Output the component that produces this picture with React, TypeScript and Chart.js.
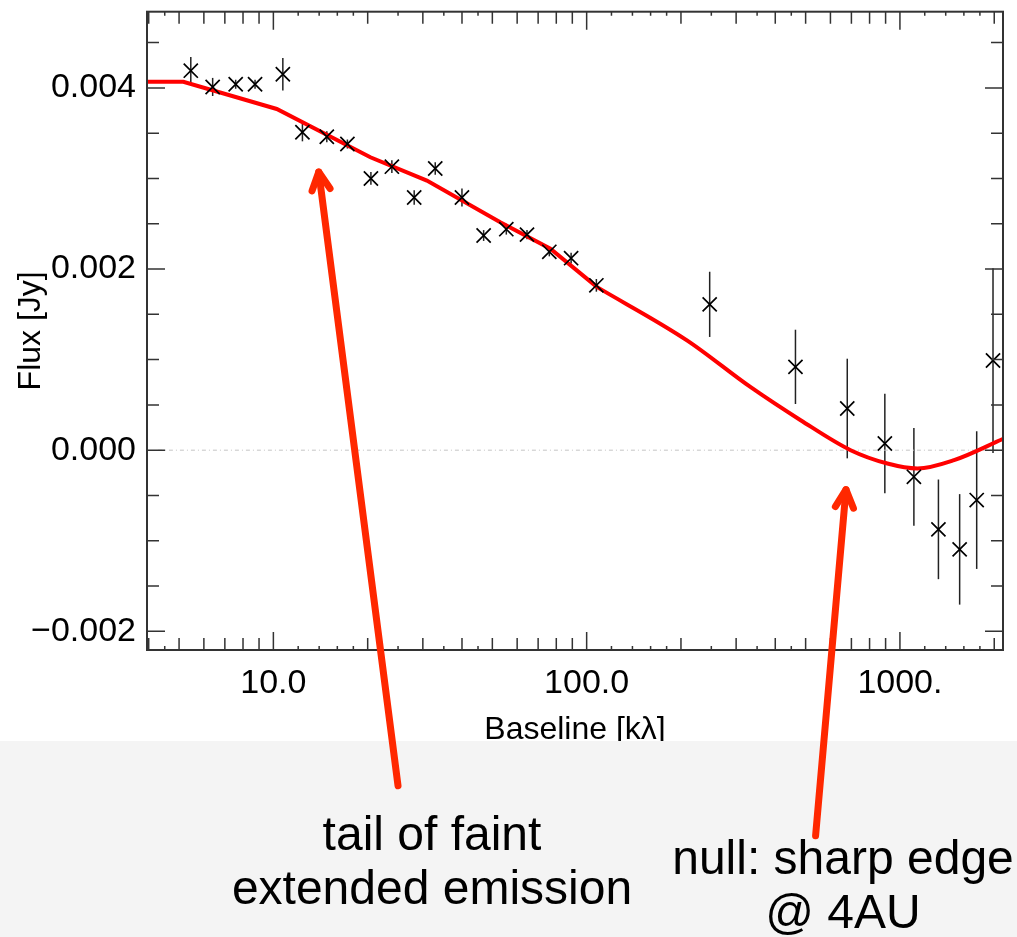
import { useEffect, useRef } from 'react';
import { Chart, registerables } from 'chart.js';

Chart.register(...registerables);

// Measured visibilities: baseline (kλ), flux (Jy) and 1σ errors
const baseline = [5.45, 6.4, 7.58, 8.74, 10.72, 12.38, 14.81, 17.23, 20.48, 23.89, 28.15, 32.86, 39.99, 46.9, 55.4, 64.5, 76.0, 89.2, 107.4, 247, 464, 679, 895, 1108, 1327, 1551, 1758, 1982];
const flux = [0.00419, 0.00401, 0.00404, 0.00404, 0.00415, 0.00351, 0.00346, 0.00338, 0.003, 0.00313, 0.00279, 0.00311, 0.00279, 0.00237, 0.00244, 0.00238, 0.00219, 0.00212, 0.00182, 0.00161, 0.00092, 0.00046, 0.000074, -0.000294, -0.000874, -0.001095, -0.000551, 0.00099];
const fluxErr = [0.00015, 0.0001, 0.00005, 0.00005, 0.00018, 0.0001, 0.00006, 0.00005, 0.00007, 0.00007, 0.00008, 0.00007, 0.0001, 0.00006, 0.00006, 0.00005, 0.00005, 0.00006, 0.00007, 0.00036, 0.00041, 0.00055, 0.00055, 0.00054, 0.00055, 0.00061, 0.00076, 0.00102];

// Disk model: piecewise inner part and smooth outer part
const modelInnerBaseline = [3.95, 5.16, 10.25, 20.4, 30.9, 53.0, 76.6, 108];
const modelInnerFlux = [0.004068, 0.004068, 0.003767, 0.003234, 0.002977, 0.002517, 0.002224, 0.0018];
const modelOuterBaseline = [108, 209, 333, 482, 696, 912, 1137, 1488, 2148];
const modelOuterFlux = [0.0018, 0.001213, 0.000698, 0.000331, 0, -0.000147, -0.000202, -0.00011, 0.000129];

// Zero reference line
const zeroBaseline = [4.28, 2133];
const zeroFlux = [0, 0];

// Axes
const xMin = 3.95;
const xMax = 2133;
const yMin = -0.002206;
const yMax = 0.004841;
const xTickValues = [10, 100, 1000];
const xTickLabels = ['10.0', '100.0', '1000.'];
const yTickValues = [-0.002, 0, 0.002, 0.004];
const yTickLabels = ['\u22120.002', '0.000', '0.002', '0.004'];
const xMinorMultiples = [2, 3, 4, 5, 6, 7, 8, 9];
const xSubMinor = [4.5, 12, 14, 16, 18, 25, 35, 45, 120, 140, 160, 180, 250, 350, 450, 1200, 1400, 1600, 1800];
const yMinorStep = 0.0005;

// Annotations (arrow tip and tail in data units)
const noteLeft = ['tail of faint', 'extended emission'];
const noteRight = ['null: sharp edge', '@ 4AU'];
const arrowTails = [
  { x: 25.0, y: -0.003705 },
  { x: 538, y: -0.004256 },
];
const arrowTips = [
  { x: 13.96, y: 0.003071 },
  { x: 672.6, y: -0.000436 },
];

const FONT = '"Liberation Sans", Arial, Helvetica, sans-serif';
const ARROW_RED = 'rgb(255, 40, 0)';
const MODEL_RED = 'rgb(255, 0, 0)';

const toPoints = (xs: number[], ys: number[]) => xs.map((x, i) => ({ x, y: ys[i] }));

const backgroundPlugin = {
  id: 'whiteBackground',
  beforeDraw(chart: any) {
    const { ctx, width, height } = chart;
    ctx.save();
    ctx.fillStyle = '#ffffff';
    ctx.fillRect(0, 0, width, height);
    ctx.restore();
  },
};

const errorBarPlugin = {
  id: 'errorBars',
  beforeDatasetsDraw(chart: any) {
    const { ctx, scales } = chart;
    const { x, y } = scales;
    ctx.save();
    ctx.strokeStyle = '#222222';
    ctx.lineWidth = 1.5;
    baseline.forEach((b, i) => {
      const px = x.getPixelForValue(b);
      const y1 = y.getPixelForValue(flux[i] + fluxErr[i]);
      const y2 = y.getPixelForValue(flux[i] - fluxErr[i]);
      ctx.beginPath();
      ctx.moveTo(px, y1);
      ctx.lineTo(px, y2);
      ctx.stroke();
    });
    ctx.restore();
  },
};

const framePlugin = {
  id: 'frameTicks',
  afterDatasetsDraw(chart: any) {
    const { ctx, chartArea, scales } = chart;
    const { left, right, top, bottom } = chartArea;
    const { x, y } = scales;
    ctx.save();
    ctx.strokeStyle = '#333333';
    ctx.lineWidth = 1.5;
    const vTick = (px: number, len: number) => {
      ctx.beginPath();
      ctx.moveTo(px, bottom);
      ctx.lineTo(px, bottom - len);
      ctx.moveTo(px, top);
      ctx.lineTo(px, top + len);
      ctx.stroke();
    };
    const hTick = (py: number, len: number) => {
      ctx.beginPath();
      ctx.moveTo(left, py);
      ctx.lineTo(left + len, py);
      ctx.moveTo(right, py);
      ctx.lineTo(right - len, py);
      ctx.stroke();
    };
    [1, 10, 100, 1000].forEach((decade) => {
      if (decade >= xMin && decade <= xMax) vTick(x.getPixelForValue(decade), 18);
      xMinorMultiples.forEach((m) => {
        const v = m * decade;
        if (v > xMin && v < xMax) vTick(x.getPixelForValue(v), 12);
      });
    });
    xSubMinor.forEach((v) => {
      if (v > xMin && v < xMax) vTick(x.getPixelForValue(v), 4);
    });
    const nSteps = Math.round((0.0045 - -0.002) / yMinorStep);
    for (let k = 0; k <= nSteps; k++) {
      const v = -0.002 + k * yMinorStep;
      const isMajor = yTickValues.some((t) => Math.abs(t - v) < 1e-9);
      hTick(y.getPixelForValue(v), isMajor ? 18 : 12);
    }
    ctx.lineWidth = 2;
    ctx.strokeRect(left, top, right - left, bottom - top);
    ctx.restore();
  },
};

const annotationPlugin = {
  id: 'annotations',
  afterDraw(chart: any) {
    const { ctx, width, height, scales } = chart;
    const { x, y } = scales;
    ctx.save();
    // lower panel
    ctx.fillStyle = '#f4f4f4';
    ctx.fillRect(0, 741, width, height - 741);

    ctx.fillStyle = '#000000';
    ctx.font = `48px ${FONT}`;
    ctx.textAlign = 'center';
    ctx.textBaseline = 'alphabetic';
    noteLeft.forEach((line, i) => ctx.fillText(line, 432, 850 + i * 54));
    noteRight.forEach((line, i) => ctx.fillText(line, 843, 874 + i * 54));

    ctx.strokeStyle = ARROW_RED;
    ctx.lineWidth = 7;
    ctx.lineCap = 'round';
    ctx.lineJoin = 'round';
    arrowTips.forEach((tip, i) => {
      const tx = x.getPixelForValue(tip.x);
      const ty = y.getPixelForValue(tip.y);
      const fx = x.getPixelForValue(arrowTails[i].x);
      const fy = y.getPixelForValue(arrowTails[i].y);
      ctx.beginPath();
      ctx.moveTo(fx, fy);
      ctx.lineTo(tx, ty);
      ctx.stroke();
      const ang = Math.atan2(fy - ty, fx - tx);
      const L = 20;
      const a = (27 * Math.PI) / 180;
      ctx.beginPath();
      ctx.moveTo(tx + L * Math.cos(ang + a), ty + L * Math.sin(ang + a));
      ctx.lineTo(tx, ty);
      ctx.lineTo(tx + L * Math.cos(ang - a), ty + L * Math.sin(ang - a));
      ctx.stroke();
    });
    ctx.restore();
  },
};

export default function App() {
  const canvasRef = useRef<HTMLCanvasElement>(null);

  useEffect(() => {
    const canvas = canvasRef.current;
    if (!canvas) return;
    const chart = new Chart(canvas, {
      type: 'scatter',
      data: {
        datasets: [
          {
            type: 'scatter',
            label: 'data',
            data: toPoints(baseline, flux),
            pointStyle: 'crossRot',
            pointRadius: 10,
            pointBorderWidth: 1.7,
            borderColor: '#000000',
            backgroundColor: '#000000',
            showLine: false,
            order: 0,
          },
          {
            type: 'line',
            label: 'model inner',
            data: toPoints(modelInnerBaseline, modelInnerFlux),
            borderColor: MODEL_RED,
            borderWidth: 4,
            pointRadius: 0,
            tension: 0,
            fill: false,
            order: 1,
          },
          {
            type: 'line',
            label: 'model outer',
            data: toPoints(modelOuterBaseline, modelOuterFlux),
            borderColor: MODEL_RED,
            borderWidth: 4,
            pointRadius: 0,
            cubicInterpolationMode: 'monotone',
            fill: false,
            order: 1,
          },
          {
            type: 'line',
            label: 'zero',
            data: toPoints(zeroBaseline, zeroFlux),
            borderColor: '#c4c4c4',
            borderWidth: 1,
            borderDash: [4, 3, 1, 3],
            pointRadius: 0,
            fill: false,
            order: 2,
          },
        ] as any,
      },
      options: {
        responsive: false,
        animation: false,
        devicePixelRatio: 1,
        layout: { padding: { top: 11, right: 14, bottom: 0, left: 0 } },
        plugins: {
          legend: { display: false },
          tooltip: { enabled: false },
        },
        scales: {
          x: {
            type: 'logarithmic',
            position: 'bottom',
            min: xMin,
            max: xMax,
            grid: { display: false, drawTicks: false },
            border: { display: false },
            afterBuildTicks: (scale: any) => {
              scale.ticks = xTickValues.map((v) => ({ value: v }));
            },
            afterFit: (scale: any) => {
              scale.height = 287;
              scale.paddingLeft = 0;
              scale.paddingRight = 0;
            },
            ticks: {
              autoSkip: false,
              maxRotation: 0,
              padding: 13,
              color: '#000000',
              font: { family: FONT, size: 34 },
              callback: (_v: any, i: number) => xTickLabels[i],
            },
            title: {
              display: true,
              text: 'Baseline [k\u03bb]',
              color: '#000000',
              font: { family: FONT, size: 32 },
              padding: { top: 0, bottom: 188 },
            },
          },
          y: {
            type: 'linear',
            position: 'left',
            min: yMin,
            max: yMax,
            grid: { display: false, drawTicks: false },
            border: { display: false },
            afterBuildTicks: (scale: any) => {
              scale.ticks = yTickValues.map((v) => ({ value: v }));
            },
            afterFit: (scale: any) => {
              scale.width = 147;
              scale.paddingTop = 0;
              scale.paddingBottom = 0;
            },
            ticks: {
              autoSkip: false,
              padding: 11,
              color: '#000000',
              font: { family: FONT, size: 34 },
              callback: (_v: any, i: number) => yTickLabels[i],
            },
            title: {
              display: true,
              text: 'Flux [Jy]',
              color: '#000000',
              font: { family: FONT, size: 32 },
              padding: { top: 12, bottom: 0 },
            },
          },
        },
      } as any,
      plugins: [backgroundPlugin, errorBarPlugin, framePlugin, annotationPlugin],
    });
    return () => chart.destroy();
  }, []);

  return (
    <div style={{ position: 'absolute', left: 0, top: 0, width: 1017, height: 937 }}>
      <canvas ref={canvasRef} width={1017} height={937} style={{ display: 'block' }} />
    </div>
  );
}
